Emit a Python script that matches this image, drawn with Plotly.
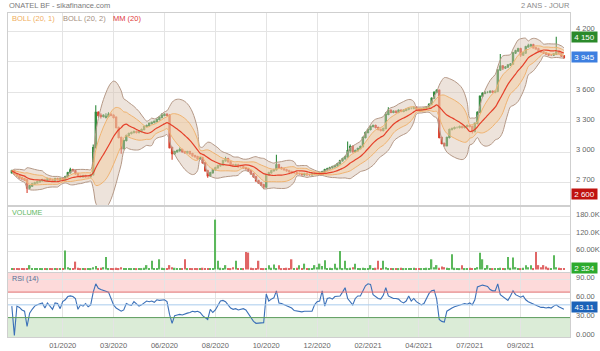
import pandas as pd
import plotly.graph_objects as go
from plotly.subplots import make_subplots

# ---------------- data ----------------
closes = [
    2820, 2790, 2770, 2750, 2740, 2730, 2650, 2670, 2690, 2700,
    2710, 2720, 2730, 2720, 2740, 2730, 2720, 2740, 2730, 2740,
    2730, 2760, 2800, 2830, 2820, 2790, 2770, 2760, 2770, 2760,
    2760, 2780, 3050, 3400, 3370, 3360, 3370, 3360, 3380, 3370,
    3350, 3250, 3150, 3040, 3120, 3170, 3190, 3200, 3210, 3200,
    3210, 3230, 3260, 3270, 3290, 3300, 3310, 3330, 3350, 3370,
    3380, 3370, 3050, 2990, 3010, 3020, 3030, 3010, 3000, 3010,
    2990, 2970, 2960, 2940, 2950, 2900, 2820, 2770, 2800, 2830,
    2850, 2870, 2880, 2920, 2940, 2910, 2880, 2870, 2880, 2860,
    2860, 2850, 2840, 2820, 2790, 2760, 2720, 2700, 2680, 2660,
    2780, 2800, 2820, 2830, 2880, 2850, 2840, 2830, 2820, 2810,
    2800, 2800, 2790, 2790, 2780, 2790, 2780, 2780, 2790, 2790,
    2790, 2800, 2810, 2830, 2840, 2850, 2860, 2870, 2890, 2920,
    2940, 2960, 3020, 3060, 3010, 3020, 3040, 3060, 3150, 3200,
    3230, 3260, 3270, 3250, 3230, 3220, 3240, 3380, 3420, 3400,
    3410, 3400, 3420, 3410, 3420, 3430, 3440, 3440, 3450, 3430,
    3420, 3430, 3440, 3450, 3480, 3540, 3600, 3620, 3150, 3090,
    3070, 3150, 3230, 3240, 3250, 3250, 3260, 3250, 3260, 3270,
    3260, 3210, 3290, 3400, 3560, 3590, 3600, 3600, 3610, 3600,
    3610, 3820, 3860, 3840, 3850, 3870, 3880, 3990, 4010, 4030,
    3970, 3990, 4050, 4060, 4070, 4040, 4030, 4010, 4000, 3990,
    3980, 3970, 3970, 3980, 4000, 3990, 3960, 3945,
]
opens = [
    2800, 2820, 2790, 2770, 2750, 2740, 2730, 2650, 2670, 2690,
    2700, 2710, 2720, 2730, 2720, 2740, 2730, 2720, 2740, 2730,
    2740, 2730, 2760, 2800, 2830, 2820, 2790, 2770, 2760, 2770,
    2760, 2760, 2780, 3050, 3400, 3370, 3360, 3350, 3360, 3380,
    3370, 3350, 3250, 3150, 3040, 3120, 3170, 3190, 3200, 3210,
    3200, 3210, 3230, 3260, 3270, 3290, 3300, 3310, 3330, 3350,
    3370, 3380, 3370, 3050, 2990, 3010, 3020, 3030, 3010, 3000,
    3010, 2990, 2970, 2960, 2940, 2950, 2900, 2820, 2770, 2800,
    2830, 2850, 2870, 2880, 2920, 2940, 2910, 2880, 2870, 2880,
    2860, 2860, 2850, 2840, 2820, 2790, 2760, 2720, 2700, 2680,
    2660, 2780, 2800, 2820, 2830, 2880, 2850, 2840, 2830, 2820,
    2810, 2800, 2800, 2790, 2790, 2780, 2790, 2780, 2780, 2790,
    2790, 2790, 2800, 2810, 2830, 2840, 2850, 2860, 2870, 2890,
    2920, 2940, 2960, 3020, 3060, 3010, 3020, 3040, 3060, 3150,
    3200, 3230, 3260, 3270, 3250, 3230, 3220, 3240, 3380, 3420,
    3400, 3410, 3400, 3420, 3410, 3420, 3430, 3440, 3440, 3450,
    3430, 3420, 3430, 3440, 3450, 3480, 3540, 3600, 3620, 3150,
    3090, 3070, 3150, 3230, 3240, 3250, 3250, 3260, 3250, 3260,
    3270, 3260, 3210, 3290, 3400, 3560, 3590, 3600, 3600, 3610,
    3600, 3610, 3820, 3860, 3840, 3850, 3870, 3880, 3990, 4010,
    4030, 3970, 3990, 4050, 4060, 4070, 4040, 4030, 4010, 4000,
    3990, 3980, 3970, 3970, 3980, 4000, 3990, 3960,
]
highs = [
    2830, 2830, 2800, 2780, 2760, 2750, 2740, 2680, 2700, 2710,
    2720, 2730, 2740, 2740, 2750, 2750, 2740, 2750, 2750, 2750,
    2750, 2770, 2810, 2850, 2840, 2830, 2800, 2780, 2780, 2780,
    2770, 2790, 3080, 3470, 3410, 3390, 3380, 3390, 3400, 3390,
    3380, 3360, 3260, 3160, 3130, 3180, 3200, 3210, 3220, 3220,
    3220, 3240, 3270, 3280, 3300, 3310, 3320, 3340, 3360, 3390,
    3390, 3390, 3380, 3060, 3020, 3030, 3050, 3040, 3020, 3020,
    3020, 3000, 2980, 2970, 2960, 2960, 2910, 2830, 2810, 2840,
    2860, 2880, 2890, 2930, 2960, 2950, 2920, 2890, 2890, 2890,
    2870, 2870, 2860, 2850, 2830, 2800, 2770, 2730, 2710, 2690,
    2790, 2810, 2830, 2840, 2980, 2890, 2860, 2850, 2840, 2830,
    2820, 2810, 2810, 2800, 2800, 2800, 2800, 2790, 2800, 2800,
    2800, 2810, 2820, 2840, 2850, 2860, 2870, 2880, 2900, 2930,
    2950, 2970, 3110, 3080, 3070, 3030, 3050, 3070, 3160, 3210,
    3240, 3270, 3280, 3280, 3260, 3240, 3250, 3400, 3450, 3430,
    3420, 3420, 3430, 3430, 3430, 3440, 3450, 3450, 3460, 3460,
    3440, 3440, 3450, 3460, 3490, 3550, 3610, 3630, 3630, 3160,
    3100, 3160, 3240, 3250, 3260, 3260, 3270, 3270, 3270, 3280,
    3280, 3270, 3300, 3410, 3570, 3600, 3610, 3610, 3620, 3620,
    3620, 3830, 3980, 3870, 3860, 3880, 3890, 4000, 4020, 4040,
    4040, 4000, 4060, 4080, 4080, 4080, 4050, 4040, 4020, 4010,
    4000, 3990, 3980, 3990, 4150, 4010, 4000, 3970,
]
lows = [
    2790, 2780, 2760, 2740, 2730, 2720, 2600, 2640, 2660, 2680,
    2690, 2700, 2710, 2710, 2710, 2720, 2710, 2710, 2720, 2720,
    2720, 2720, 2750, 2790, 2810, 2780, 2760, 2750, 2750, 2750,
    2750, 2750, 2770, 3040, 3350, 3340, 3350, 3340, 3350, 3360,
    3340, 3240, 3140, 2990, 3030, 3110, 3160, 3180, 3190, 3190,
    3190, 3200, 3220, 3250, 3260, 3280, 3290, 3300, 3320, 3340,
    3360, 3360, 3040, 2930, 2980, 3000, 3010, 3000, 2990, 2990,
    2980, 2960, 2950, 2930, 2930, 2890, 2810, 2750, 2760, 2790,
    2820, 2840, 2860, 2870, 2910, 2900, 2870, 2860, 2860, 2850,
    2850, 2840, 2830, 2810, 2780, 2750, 2710, 2690, 2670, 2640,
    2650, 2770, 2790, 2810, 2820, 2840, 2830, 2820, 2810, 2800,
    2790, 2790, 2780, 2780, 2770, 2770, 2770, 2770, 2770, 2780,
    2780, 2780, 2790, 2800, 2820, 2830, 2840, 2850, 2860, 2880,
    2910, 2930, 2950, 3000, 3000, 3000, 3010, 3030, 3050, 3140,
    3190, 3220, 3250, 3240, 3220, 3210, 3210, 3230, 3370, 3390,
    3390, 3390, 3390, 3400, 3400, 3410, 3420, 3430, 3430, 3420,
    3410, 3410, 3420, 3430, 3440, 3470, 3530, 3590, 3140, 3080,
    3060, 3060, 3140, 3220, 3230, 3240, 3240, 3240, 3240, 3250,
    3250, 3190, 3200, 3280, 3390, 3550, 3580, 3590, 3590, 3590,
    3590, 3600, 3810, 3820, 3830, 3840, 3860, 3870, 3980, 4000,
    3950, 3960, 3980, 4040, 4050, 4030, 4020, 4000, 3990, 3980,
    3970, 3960, 3960, 3960, 3970, 3980, 3950, 3930,
]
volumes_k = [
    3, 2, 4, 2, 3, 2, 5, 15, 3, 2,
    2, 3, 2, 4, 2, 3, 2, 5, 3, 2,
    4, 65, 8, 5, 3, 27, 6, 3, 2, 4,
    3, 5, 8, 12, 4, 6, 8, 43, 5, 3,
    4, 6, 5, 8, 3, 4, 2, 3, 5, 2,
    3, 4, 6, 15, 4, 30, 5, 3, 35, 6,
    4, 3, 15, 8, 6, 4, 3, 2, 35, 4,
    3, 2, 4, 5, 3, 6, 4, 3, 2, 5,
    171, 30, 6, 4, 15, 5, 3, 8, 30, 4,
    3, 5, 60, 58, 6, 4, 3, 30, 5, 3,
    4, 15, 6, 17, 5, 15, 4, 3, 6, 5,
    35, 4, 6, 15, 3, 20, 4, 3, 5, 15,
    8, 20, 12, 32, 5, 6, 4, 20, 6, 63,
    5, 30, 4, 6, 8, 20, 5, 4, 6, 3,
    4, 15, 5, 6, 30, 4, 30, 8, 5, 4,
    3, 5, 4, 6, 3, 4, 5, 3, 6, 4,
    3, 5, 4, 6, 5, 35, 8, 15, 6, 10,
    8, 6, 5, 52, 6, 4, 3, 15, 5, 4,
    6, 4, 5, 8, 57, 35, 5, 15, 4, 3,
    5, 4, 6, 5, 4, 43, 6, 41, 8, 5,
    4, 6, 15, 8, 15, 5, 60, 15, 8, 15,
    10, 6, 5, 49, 8, 6, 5, 2.324,
]
rsi = [
    48, 2, 48, 46, 42, 40, 16, 37, 43, 48,
    50, 52, 53, 45, 53, 48, 43, 53, 52, 44,
    55, 58, 63, 64, 63, 60, 43, 50, 48, 52,
    47, 50, 70, 83, 76, 74, 73, 71, 70, 60,
    50, 45, 42, 40, 42, 52, 50, 49, 55, 52,
    48, 50, 53, 56, 55, 56, 54, 58, 57, 58,
    58, 55, 35, 21, 33, 34, 35, 34, 36, 37,
    38, 40, 39, 40, 38, 33, 30, 27, 43, 38,
    42, 50, 56, 57, 55, 50, 45, 43, 44, 42,
    43, 44, 42, 36, 28, 24, 21, 21, 21, 22,
    67, 56, 59, 61, 72, 53, 52, 50, 48, 46,
    45, 41, 40, 40, 39, 40, 40, 41, 40, 50,
    55, 56, 72, 48, 60, 61, 59, 63, 64, 64,
    70, 77, 60, 55, 50, 60, 64, 64, 72, 80,
    83, 82, 66, 63, 60, 59, 65, 77, 64, 62,
    60, 60, 59, 55, 53, 56, 64, 56, 60, 55,
    52, 50, 52, 60, 68, 72, 73, 59, 27, 24,
    23, 40, 43, 45, 47, 48, 49, 50, 52, 51,
    53, 50, 58, 78, 80, 81, 80, 79, 74, 72,
    72, 83, 66, 63, 60, 57, 64, 72, 66, 64,
    62, 64, 58, 55, 53, 51, 50, 47, 46, 46,
    45, 46, 45, 48, 50, 47, 45, 43.11,
]
month_ticks = [20, 40, 60, 80, 100, 120, 140, 160, 180, 200]
month_labels = ["01/2020", "03/2020", "06/2020", "08/2020", "10/2020",
                "12/2020", "02/2021", "04/2021", "07/2021", "09/2021"]
price_ticks = [2700, 3000, 3300, 3600, 3900, 4200]
price_label_ticks = [2700, 3000, 3300, 3600, 4200]      # 3 900 sits under the last-price badge
price_labels = ["2 700", "3 000", "3 300", "3 600", "4 200"]
vol_ticks = [60000, 120000, 180000]
vol_labels = ["60.00K", "120.0K", "180.0K"]
rsi_ticks = [0, 30, 60, 90]
rsi_labels = ["0.000", "30.00", "60.00", "90.00"]

# ---------------- derived indicators ----------------
# bars here are coarser than the source's daily bars, so a shorter window
# reproduces the look of the 20-period bands
WIN = 13
idx = list(range(len(closes)))
s = pd.Series(closes, dtype=float)
ma = s.rolling(WIN, min_periods=1).mean()
sd = s.rolling(WIN, min_periods=1).std(ddof=0).fillna(0)
up1, dn1 = ma + sd, ma - sd
up2, dn2 = ma + 2 * sd, ma - 2 * sd
volumes = [v * 1000 for v in volumes_k]
vol_colors = ["#5cb85c" if c >= o else "#e06666" for c, o in zip(closes, opens)]

GREEN = "#2f8a3c"
RED = "#d9412e"
FONT = "Liberation Sans, Arial, sans-serif"
FS = 7.5

fig = make_subplots(rows=3, cols=1, shared_xaxes=True, vertical_spacing=0.0)

fig.add_trace(go.Scatter(x=idx, y=up2, mode="lines", line=dict(color="#b49886", width=1, shape="spline"),
                         hoverinfo="skip"), row=1, col=1)
fig.add_trace(go.Scatter(x=idx, y=dn2, mode="lines", line=dict(color="#b49886", width=1, shape="spline"),
                         fill="tonexty", fillcolor="rgba(214,192,176,0.45)", hoverinfo="skip"), row=1, col=1)
fig.add_trace(go.Scatter(x=idx, y=up1, mode="lines", line=dict(color="#efb370", width=1, shape="spline"),
                         hoverinfo="skip"), row=1, col=1)
fig.add_trace(go.Scatter(x=idx, y=dn1, mode="lines", line=dict(color="#efb370", width=1, shape="spline"),
                         fill="tonexty", fillcolor="rgba(246,200,150,0.42)", hoverinfo="skip"), row=1, col=1)
fig.add_trace(go.Scatter(x=idx, y=ma, mode="lines", line=dict(color="#e5402a", width=1.2, shape="spline"),
                         hoverinfo="skip"), row=1, col=1)
fig.add_trace(go.Candlestick(x=idx, open=opens, high=highs, low=lows, close=closes,
                             increasing=dict(line=dict(color=GREEN, width=1.1), fillcolor=GREEN),
                             decreasing=dict(line=dict(color=RED, width=1.1), fillcolor=RED),
                             whiskerwidth=0), row=1, col=1)

fig.add_trace(go.Bar(x=idx, y=volumes, marker=dict(color=vol_colors, line=dict(width=0)), width=0.55),
              row=2, col=1)

fig.add_trace(go.Scatter(x=idx, y=rsi, mode="lines", line=dict(color="#3b70b8", width=1.1)), row=3, col=1)

XR = [-1.5, 219.4]
grid = "#e4e4e4"
axis_line = "#cfcfcf"
tickfont = dict(family=FONT, size=FS, color="#666666")

for r in (1, 2, 3):
    fig.update_xaxes(row=r, col=1, range=XR, tickvals=month_ticks, ticktext=month_labels,
                     showgrid=True, gridcolor=grid, gridwidth=1, zeroline=False,
                     showline=True, linecolor=axis_line, mirror=True,
                     ticks="outside", ticklen=1, tickcolor="rgba(0,0,0,0)",
                     tickfont=tickfont, showticklabels=(r == 3), rangeslider_visible=False,
                     automargin=False)

PR = [2479, 4386]
VR = [-8600, 214000]
RR = [-0.5, 100]
fig.update_layout(
    width=600, height=351,
    margin=dict(l=8, r=30, t=13, b=14, autoexpand=False),
    paper_bgcolor="white", plot_bgcolor="white",
    showlegend=False,
    font=dict(family=FONT),
    yaxis=dict(domain=[0.407, 1.0], range=PR, side="right", tickvals=price_ticks,
               showticklabels=False, showgrid=True, gridcolor=grid, zeroline=False,
               showline=True, linecolor=axis_line, mirror=True, ticks="", automargin=False),
    yaxis2=dict(domain=[0.2006, 0.401], range=VR, side="right", tickvals=vol_ticks,
                showticklabels=False, showgrid=True, gridcolor=grid, zeroline=False,
                showline=True, linecolor=axis_line, mirror=True, ticks="", automargin=False),
    yaxis3=dict(domain=[0.0, 0.1975], range=RR, side="right", tickvals=rsi_ticks,
                showticklabels=False, showgrid=True, gridcolor=grid, zeroline=False,
                showline=True, linecolor=axis_line, mirror=True, ticks="", automargin=False),
)

# right-hand tick labels (drawn slightly above their gridlines, as in the source)
for yref, vals, labels, shift in (("y", price_label_ticks, price_labels, 3),
                                  ("y2", vol_ticks, vol_labels, 2),
                                  ("y3", rsi_ticks, rsi_labels, 2)):
    for v, t in zip(vals, labels):
        fig.add_annotation(text=t, xref="paper", yref=yref, x=1.0, y=v, xanchor="left", yanchor="middle",
                           xshift=4, yshift=shift, showarrow=False, font=tickfont)

# RSI zones
fig.add_shape(type="rect", xref="x3 domain", yref="y3", x0=0, x1=1, y0=70, y1=100,
              fillcolor="rgba(250,150,150,0.35)", line=dict(width=0), layer="below")
fig.add_shape(type="rect", xref="x3 domain", yref="y3", x0=0, x1=1, y0=-0.5, y1=30,
              fillcolor="rgba(160,205,150,0.38)", line=dict(width=0), layer="below")
fig.add_shape(type="line", xref="x3 domain", yref="y3", x0=0, x1=1, y0=70, y1=70,
              line=dict(color="#e07070", width=1))
fig.add_shape(type="line", xref="x3 domain", yref="y3", x0=0, x1=1, y0=30, y1=30,
              line=dict(color="#5e9e5e", width=1))
fig.add_shape(type="line", xref="x3 domain", yref="y3", x0=0, x1=1, y0=50, y1=50,
              line=dict(color="#a9cbed", width=1))

H = 351 - 13 - 14
W = 600 - 8 - 30
def py(pix):
    return (351 - 14 - pix) / H
def px(pix):
    return (pix - 8) / W

def note(text, x, y, color, xanchor="left", size=FS):
    fig.add_annotation(text=text, xref="paper", yref="paper", x=x, y=y, xanchor=xanchor,
                       yanchor="middle", showarrow=False,
                       font=dict(family=FONT, size=size, color=color))

note("ONATEL BF - sikafinance.com", px(7), py(6), "#7a7a7a")
note("2 ANS - JOUR", px(572), py(6), "#8a8a8a", xanchor="right")
note("BOLL (20, 1)", px(10), py(18.5), "#f0ad5c")
note("BOLL (20, 2)", px(61), py(18.5), "#a48e80")
note("MM (20)", px(111), py(18.5), "#e0393a")
note("VOLUME", px(10), py(212), "#62b862", size=7.2)
note("RSI (14)", px(10), py(278.5), "#5a6d94", size=7.2)

def badge(text, yval, yref, bg, shift=0):
    fig.add_annotation(text=text, xref="paper", yref=yref, x=1.0, y=yval, xanchor="left", yanchor="middle",
                       xshift=1, yshift=shift, showarrow=False, bgcolor=bg, width=25, height=10, borderpad=0,
                       font=dict(family=FONT, size=FS + 0.5, color="white"))

badge("4 150", 4150, "y", "#2b8a2b")
badge("3 945", 3945, "y", "#3d7fe0")
badge("2 600", 2600, "y", "#c0120f", shift=-1)
badge("2 324", 2324, "y2", "#2daa2d", shift=1)
badge("43.11", 43.11, "y3", "#1c62b8", shift=2)

fig.write_html("out.html")
